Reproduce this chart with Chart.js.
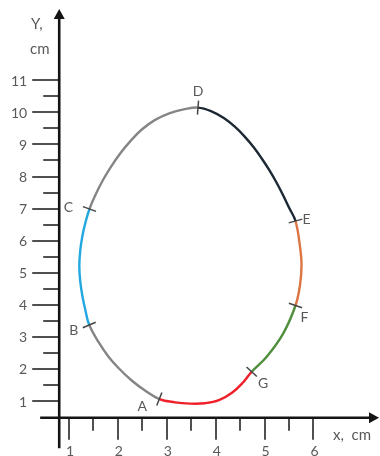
<!DOCTYPE html>
<html><head><meta charset="utf-8">
<script src="https://cdn.jsdelivr.net/npm/chart.js@4.4.0/dist/chart.umd.min.js"></script>
<style>html,body{margin:0;padding:0;background:#fff}canvas{display:block}</style>
</head><body>
<canvas id="c" width="380" height="456"></canvas>
<script>
// ---- data ----
const xTicks = [1, 2, 3, 4, 5, 6];
const xMinorTicks = [1.5, 2.5, 3.5, 4.5, 5.5];
const yTicks = [1, 2, 3, 4, 5, 6, 7, 8, 9, 10, 11];
const yMinorTicks = [1.5, 2.5, 3.5, 4.5, 5.5, 6.5, 7.5, 8.5, 9.5, 10.5];
const pointLabels = ['A', 'B', 'C', 'D', 'E', 'F', 'G'];
const xTitle = 'x,  cm';
const yTitle1 = 'Y,';
const yTitle2 = 'cm';

// each arc starts at its labelled point (A..G) and runs to the next one
const arcAB = [[2.847, 1.062], [2.554, 1.327], [2.282, 1.639], [2.022, 2.013], [1.804, 2.388], [1.603, 2.840]];
const arcBC = [[1.414, 3.370], [1.339, 3.806], [1.274, 4.274], [1.229, 4.742], [1.211, 5.210], [1.229, 5.677], [1.274, 6.145], [1.339, 6.581]];
const arcCD = [[1.419, 6.987], [1.547, 7.445], [1.695, 7.891], [1.864, 8.318], [2.051, 8.727], [2.260, 9.110], [2.489, 9.466], [2.753, 9.759], [3.049, 9.971], [3.366, 10.099]];
const arcDE = [[3.638, 10.149], [3.914, 10.033], [4.166, 9.825], [4.391, 9.553], [4.593, 9.245], [4.777, 8.911], [4.945, 8.555], [5.100, 8.190], [5.243, 7.813], [5.376, 7.423], [5.499, 7.031]];
const arcEF = [[5.632, 6.613], [5.724, 5.811], [5.755, 5.241], [5.724, 4.617]];
const arcFG = [[5.632, 3.978], [5.382, 3.111], [5.043, 2.381]];
const arcGA = [[4.736, 1.914], [4.558, 1.577], [4.333, 1.256], [4.067, 1.025], [3.781, 0.931], [3.474, 0.919], [3.168, 0.959]];
const arcs = [arcAB, arcBC, arcCD, arcDE, arcEF, arcFG, arcGA];

// ---- styles ----
const arcColors = ['#858585', '#22a8e0', '#858585', '#1c2833', '#dc7444', '#4f8f3c', '#f0202a'];
const labelOffsets = [[-17, 7], [-15.5, 5.5], [-21, -2], [0, -16], [11, -2], [9, 12], [11.5, 11.5]];
const axisGeom = { yAxisAtX: 0.80, xAxisAtY: 0.48, xFrom: 0.41, xTo: 7.34, yFrom: -0.47, yTo: 13.22 };
const FONT = '14px Lato, "Open Sans", sans-serif';
const TFONT = '15px Lato, "Open Sans", sans-serif';
const TXT = '#595959';

// build closed loop: wrap point in front, A (+next) at end; wrap segments transparent
const pts = [];
const segCol = [];
const labelIdx = [];
const lastGA = arcGA[arcGA.length - 1];
pts.push({ x: lastGA[0], y: lastGA[1] }); segCol.push('rgba(0,0,0,0)');
arcs.forEach((arc, ai) => {
  arc.forEach((p, pi) => {
    if (pi === 0) labelIdx.push(pts.length);
    pts.push({ x: p[0], y: p[1] });
    segCol.push(arcColors[ai]);
  });
});
pts.push({ x: arcAB[0][0], y: arcAB[0][1] }); segCol.push('rgba(0,0,0,0)');
pts.push({ x: arcAB[1][0], y: arcAB[1][1] }); segCol.push('rgba(0,0,0,0)');

const axesPlugin = {
  id: 'axes',
  beforeDatasetsDraw(chart) {
    const { ctx, scales: { x, y } } = chart;
    const ax = x.getPixelForValue(axisGeom.yAxisAtX);
    const ay = y.getPixelForValue(axisGeom.xAxisAtY);
    ctx.save();
    // tick marks
    ctx.strokeStyle = '#505050';
    ctx.lineWidth = 2;
    ctx.beginPath();
    yTicks.forEach(v => { const py = Math.round(y.getPixelForValue(v)); ctx.moveTo(ax - 27, py); ctx.lineTo(ax, py); });
    yMinorTicks.forEach(v => { const py = Math.round(y.getPixelForValue(v)); ctx.moveTo(ax - 16, py); ctx.lineTo(ax, py); });
    xTicks.forEach(v => { const px = Math.round(x.getPixelForValue(v)); ctx.moveTo(px, ay); ctx.lineTo(px, ay + 22); });
    xMinorTicks.forEach(v => { const px = Math.round(x.getPixelForValue(v)); ctx.moveTo(px, ay); ctx.lineTo(px, ay + 13); });
    ctx.stroke();
    // axis lines
    ctx.strokeStyle = '#141414';
    ctx.fillStyle = '#141414';
    ctx.lineWidth = 2.6;
    const x0 = x.getPixelForValue(axisGeom.xFrom), x1 = x.getPixelForValue(axisGeom.xTo);
    const y0 = y.getPixelForValue(axisGeom.yFrom), y1 = y.getPixelForValue(axisGeom.yTo);
    ctx.beginPath();
    ctx.moveTo(x0, ay); ctx.lineTo(x1 - 6, ay);
    ctx.moveTo(ax, y0); ctx.lineTo(ax, y1 + 6);
    ctx.stroke();
    ctx.beginPath();
    ctx.moveTo(x1, ay); ctx.lineTo(x1 - 10, ay - 5.5); ctx.lineTo(x1 - 10, ay + 5.5); ctx.closePath();
    ctx.moveTo(ax, y1); ctx.lineTo(ax - 5.5, y1 + 10); ctx.lineTo(ax + 5.5, y1 + 10); ctx.closePath();
    ctx.fill();
    // tick labels
    ctx.fillStyle = TXT;
    ctx.font = FONT;
    ctx.textBaseline = 'middle';
    ctx.textAlign = 'right';
    yTicks.forEach(v => ctx.fillText(String(v), ax - 32, y.getPixelForValue(v) + 1));
    ctx.textAlign = 'center';
    xTicks.forEach(v => ctx.fillText(String(v), x.getPixelForValue(v) + 1, ay + 34));
    // titles
    ctx.font = TFONT;
    ctx.textAlign = 'left';
    ctx.fillText(yTitle1, 31, 24);
    ctx.fillText(yTitle2, 30, 49);
    ctx.fillText(xTitle, 333, ay + 17);
    ctx.restore();
  },
  afterDatasetsDraw(chart) {
    const { ctx } = chart;
    const meta = chart.getDatasetMeta(0);
    ctx.save();
    ctx.strokeStyle = '#454545';
    ctx.lineWidth = 1.5;
    ctx.fillStyle = TXT;
    ctx.font = FONT;
    ctx.textAlign = 'center';
    ctx.textBaseline = 'middle';
    labelIdx.forEach((k, i) => {
      const p = meta.data[k], a = meta.data[k - 1], b = meta.data[k + 1];
      let tx = b.x - a.x, ty = b.y - a.y;
      const L = Math.hypot(tx, ty); tx /= L; ty /= L;
      const nx = -ty, ny = tx, h = 7;
      ctx.beginPath();
      ctx.moveTo(p.x - nx * h, p.y - ny * h);
      ctx.lineTo(p.x + nx * h, p.y + ny * h);
      ctx.stroke();
      ctx.fillText(pointLabels[i], p.x + labelOffsets[i][0], p.y + labelOffsets[i][1]);
    });
    ctx.restore();
  }
};

new Chart(document.getElementById('c'), {
  type: 'scatter',
  data: {
    datasets: [{
      data: pts,
      showLine: true,
      pointRadius: 0,
      borderWidth: 2.4,
      borderColor: '#858585',
      tension: 0.4,
      fill: false,
      segment: { borderColor: c => segCol[c.p0DataIndex] }
    }]
  },
  options: {
    responsive: false,
    animation: false,
    layout: { padding: 0 },
    plugins: { legend: { display: false }, tooltip: { enabled: false } },
    scales: {
      x: { type: 'linear', display: false, min: -0.411, max: 7.360 },
      y: { type: 'linear', display: false, min: -0.715, max: 13.504 }
    }
  },
  plugins: [axesPlugin]
});
</script>
</body></html>
